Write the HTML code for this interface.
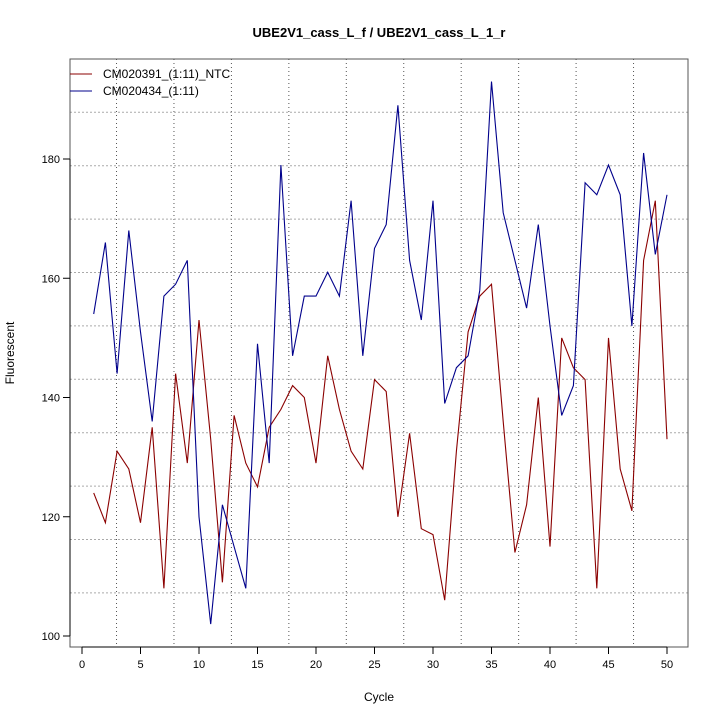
<!DOCTYPE html>
<html><head><meta charset="utf-8"><style>
body{margin:0;background:#fff}
svg{display:block;font-family:"Liberation Sans",sans-serif}
</style></head><body>
<svg id="s" width="720" height="720" xmlns="http://www.w3.org/2000/svg"></svg>
<script>
const red=[124,119,131,128,119,135,108,144,129,153,133,109,137,129,125,135,138,142,140,129,147,138,131,128,143,141,120,134,118,117,106,131,151,157,159,136,114,122,140,115,150,145,143,108,150,128,121,163,173,133];
const blue=[154,166,144,168,151,136,157,159,163,120,102,122,115,108,149,129,179,147,157,157,161,157,173,147,165,169,189,163,153,173,139,145,147,158,193,171,163,155,169,152,137,142,176,174,179,174,152,181,164,174];
const X=c=>82+c*11.7, Y=v=>636-(v-100)*5.9625;
const L=70,R=688,T=59,B=647;
let h='';
h+=`<text x="379" y="37" text-anchor="middle" font-weight="bold" font-size="13">UBE2V1_cass_L_f / UBE2V1_cass_L_1_r</text>`;
for(let k=0;k<10;k++){const x=X(2.95+4.91*k);h+=`<line x1="${x}" y1="${T}" x2="${x}" y2="${B}" stroke="#555" stroke-width="1" stroke-dasharray="1,3"/>`;}
for(let k=0;k<10;k++){const y=112.3+53.4*k;if(y>B)break;h+=`<line x1="${L}" y1="${y}" x2="${R}" y2="${y}" stroke="#aaa" stroke-width="1" stroke-dasharray="2,2"/>`;}
h+=`<rect x="${L}" y="${T}" width="${R-L}" height="${B-T}" fill="none" stroke="#555" stroke-width="1"/>`;
for(let c=0;c<=50;c+=5){const x=X(c);h+=`<line x1="${x}" y1="${B}" x2="${x}" y2="${B+7}" stroke="#000"/><text x="${x}" y="${B+21}" text-anchor="middle" font-size="11">${c}</text>`;}
h+=`<line x1="${X(0)}" y1="${B}" x2="${X(50)}" y2="${B}" stroke="#000"/>`;
for(let v=100;v<=180;v+=20){const y=Y(v);h+=`<line x1="${L}" y1="${y}" x2="${L-7}" y2="${y}" stroke="#000"/><text x="${L-10}" y="${y+4}" text-anchor="end" font-size="11">${v}</text>`;}
h+=`<line x1="${L}" y1="${Y(100)}" x2="${L}" y2="${Y(180)}" stroke="#000"/>`;
h+=`<text x="379" y="701" text-anchor="middle" font-size="12">Cycle</text>`;
h+=`<text transform="translate(14,353) rotate(-90)" text-anchor="middle" font-size="12">Fluorescent</text>`;
const pl=(d,c)=>`<polyline fill="none" stroke="${c}" stroke-width="1.1" points="${d.map((v,i)=>X(i+1).toFixed(1)+','+Y(v).toFixed(1)).join(' ')}"/>`;
h+=pl(red,'#8b0000')+pl(blue,'#00008b');
h+=`<line x1="70" y1="74" x2="92" y2="74" stroke="#8b0000"/><text x="103" y="78" font-size="12">CM020391_(1:11)_NTC</text>`;
h+=`<line x1="70" y1="91" x2="92" y2="91" stroke="#00008b"/><text x="103" y="95" font-size="12">CM020434_(1:11)</text>`;
document.getElementById('s').innerHTML=h;
</script>
</body></html>
